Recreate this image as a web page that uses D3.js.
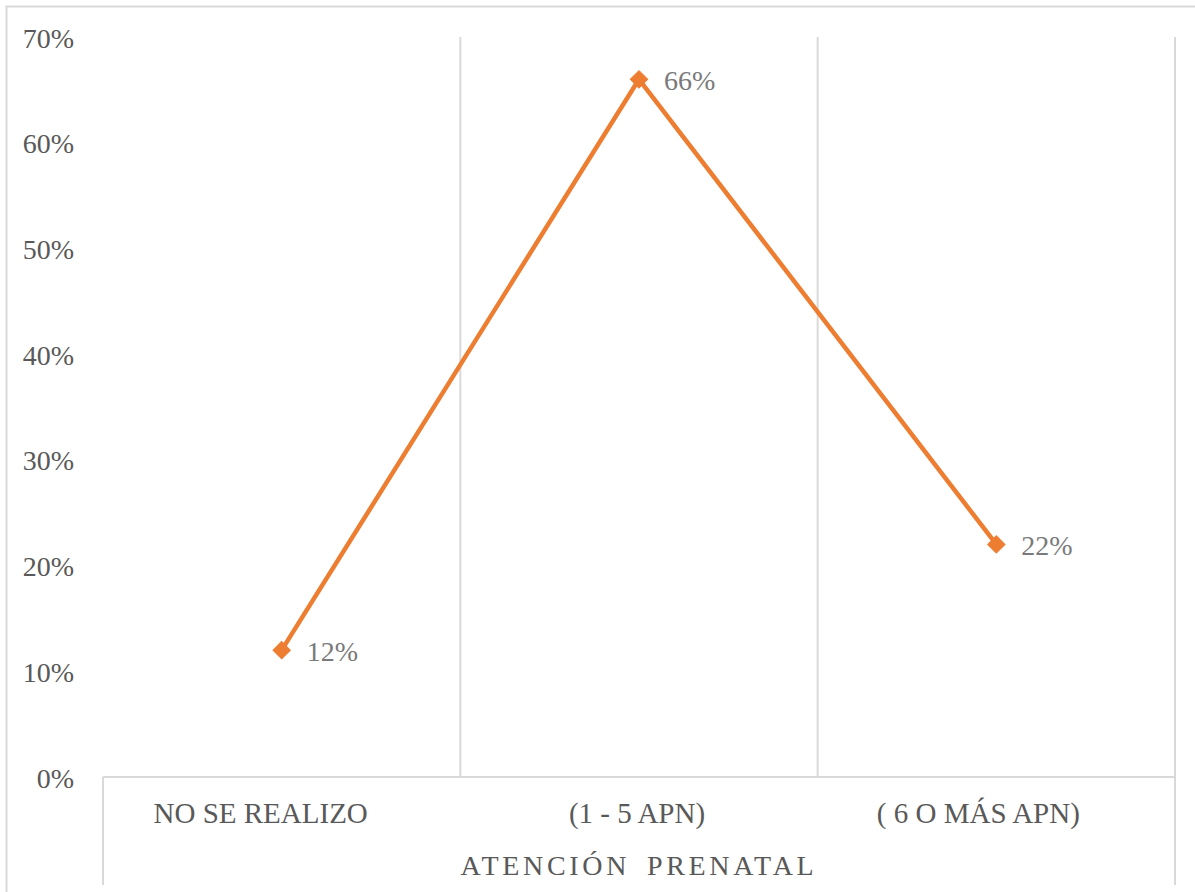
<!DOCTYPE html>
<html>
<head>
<meta charset="utf-8">
<script src="https://cdn.jsdelivr.net/npm/d3@7"></script>
<style>
  html, body { margin: 0; padding: 0; background: #fff; }
  svg { display: block; }
</style>
</head>
<body>
<svg id="chart" width="1195" height="892"></svg>
<script>
// Prenatal care categories and their shares
const categories = ["NO SE REALIZO", "(1 - 5 APN)", "( 6 O MÁS APN)"];
const values = [0.12, 0.66, 0.22];
const valueLabels = ["12%", "66%", "22%"];
const yTicks = [0, 0.1, 0.2, 0.3, 0.4, 0.5, 0.6, 0.7];
const axisTitle = "ATENCIÓN PRENATAL";

const svg = d3.select("#chart");
const font = "'Liberation Serif', 'Times New Roman', serif";
const gridColor = "#d9d9d9";
const textColor = "#595959";
const lineColor = "#ED7D31";

const plotLeft = 103, plotRight = 1175, plotTop = 37, plotBottom = 777;
// horizontal nudges for the category labels (layout only)
const categoryLabelShift = [-21, -2, -18];

// outer chart frame
svg.append("rect")
  .attr("x", 6.5).attr("y", 6.5)
  .attr("width", 1200).attr("height", 900)
  .attr("fill", "none").attr("stroke", gridColor).attr("stroke-width", 2);

const x = d3.scaleBand().domain(categories).range([plotLeft, plotRight]).padding(0);
const y = d3.scaleLinear().domain([0, 0.7]).range([plotBottom, plotTop]);

// vertical gridlines between categories
const boundaries = categories.slice(1).map(c => x(c)).concat([plotRight]);
svg.append("g").selectAll("line").data(boundaries).join("line")
  .attr("x1", d => d).attr("x2", d => d)
  .attr("y1", plotTop).attr("y2", plotBottom)
  .attr("stroke", gridColor).attr("stroke-width", 2);

// category axis line and outer ticks spanning the label area
svg.append("line")
  .attr("x1", plotLeft).attr("x2", plotRight).attr("y1", plotBottom).attr("y2", plotBottom)
  .attr("stroke", gridColor).attr("stroke-width", 2);
[plotLeft, plotRight].forEach(px => {
  svg.append("line")
    .attr("x1", px).attr("x2", px).attr("y1", plotBottom).attr("y2", 885)
    .attr("stroke", gridColor).attr("stroke-width", 2);
});

// y axis labels
const yAxis = d3.axisLeft(y).tickValues(yTicks).tickFormat(d3.format(".0%")).tickSize(0).tickPadding(29);
const gy = svg.append("g").attr("transform", `translate(${plotLeft},0)`).call(yAxis);
gy.select(".domain").remove();
gy.selectAll("text")
  .attr("font-family", font).attr("font-size", 28).attr("fill", textColor)
  .attr("dy", "0.36em");

// category labels
const xAxis = d3.axisBottom(x).tickSize(0);
const gx = svg.append("g").attr("transform", `translate(0,${plotBottom})`).call(xAxis);
gx.select(".domain").remove();
gx.selectAll("text")
  .attr("y", 46).attr("dy", 0)
  .attr("x", (d, i) => categoryLabelShift[i])
  .attr("font-family", font).attr("font-size", 29).attr("fill", textColor);

// axis title
svg.append("text")
  .attr("x", (plotLeft + plotRight) / 2).attr("y", 875)
  .attr("text-anchor", "middle")
  .attr("font-family", font).attr("font-size", 28)
  .attr("letter-spacing", 3.7).attr("word-spacing", 6)
  .attr("fill", textColor)
  .text(axisTitle);

const cx = c => x(c) + x.bandwidth() / 2;
const data = categories.map((c, i) => ({ c, v: values[i], label: valueLabels[i] }));

// series line
const line = d3.line().x(d => cx(d.c)).y(d => y(d.v));
svg.append("path")
  .datum(data)
  .attr("d", line)
  .attr("fill", "none").attr("stroke", lineColor).attr("stroke-width", 4.5)
  .attr("stroke-linejoin", "round");

// diamond markers
const diamond = d3.symbol().type(d3.symbolSquare).size(150);
svg.append("g").selectAll("path").data(data).join("path")
  .attr("d", diamond)
  .attr("transform", d => `translate(${cx(d.c)},${y(d.v)}) rotate(45)`)
  .attr("fill", lineColor).attr("stroke", lineColor).attr("stroke-width", 1);

// value labels
svg.append("g").selectAll("text").data(data).join("text")
  .attr("x", d => cx(d.c) + 25)
  .attr("y", d => y(d.v) + 11)
  .attr("font-family", font).attr("font-size", 28)
  .attr("fill", "#7a7a7a")
  .text(d => d.label);
</script>
</body>
</html>
